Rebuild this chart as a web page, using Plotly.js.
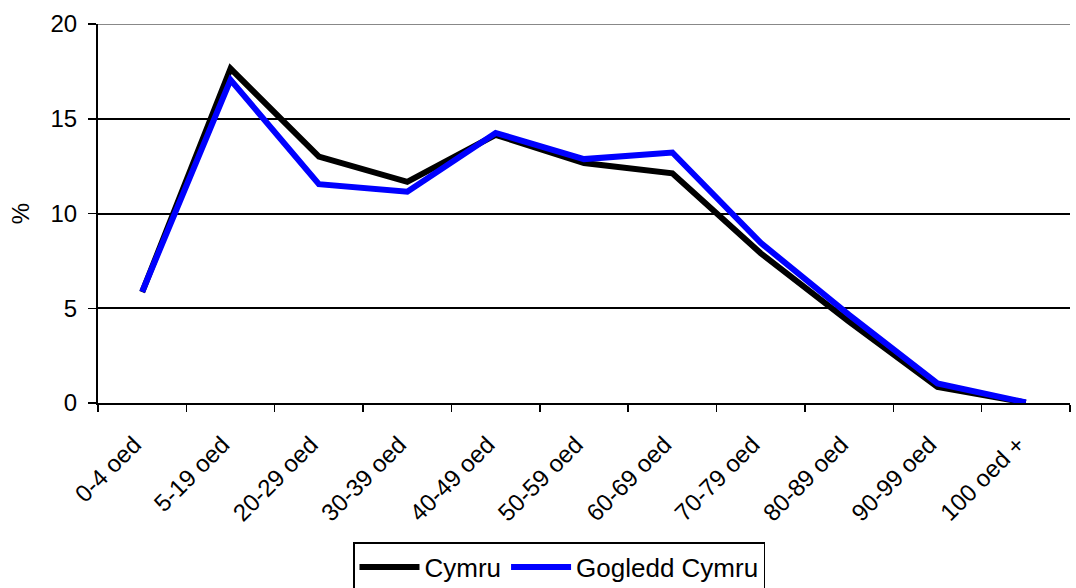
<!DOCTYPE html>
<html>
<head>
<meta charset="utf-8">
<script src="https://cdn.plot.ly/plotly-3.0.1.min.js"></script>
<style>html,body{margin:0;padding:0;background:#fff;}#chart{width:1076px;height:588px;}</style>
</head>
<body>
<div id="chart"></div>
<script>
const categories = ["0-4 oed","5-19 oed","20-29 oed","30-39 oed","40-49 oed","50-59 oed","60-69 oed","70-79 oed","80-89 oed","90-99 oed","100 oed +"];
const cymru = [5.85, 17.65, 13.0, 11.67, 14.15, 12.66, 12.12, 7.9, 4.3, 0.85, 0.02];
const gogleddCymru = [5.87, 17.05, 11.55, 11.15, 14.25, 12.87, 13.22, 8.45, 4.65, 1.03, 0.03];
const yTicks = [0, 5, 10, 15, 20];

const family = "Liberation Sans, Arial, sans-serif";
const tickFont = {family: family, size: 24, color: "#000"};

const traces = [
  {x: categories, y: cymru, name: "Cymru", type: "scatter", mode: "lines",
   line: {color: "#000000", width: 6}},
  {x: categories, y: gogleddCymru, name: "Gogledd Cymru", type: "scatter", mode: "lines",
   line: {color: "#0000ff", width: 6}}
];

const layout = {
  width: 1076, height: 588,
  margin: {l: 98, r: 6, t: 24, b: 185},
  paper_bgcolor: "#fff", plot_bgcolor: "#fff",
  font: tickFont,
  showlegend: true,
  legend: {orientation: "h", xref: "container", yref: "container", x: 353/1076, xanchor: "left",
    y: 1 - 542/588, yanchor: "top",
    bordercolor: "#000", borderwidth: 1.5, font: {family: family, size: 26, color: "#000"},
    itemwidth: 60, tracegroupgap: 0, bgcolor: "#fff"},
  xaxis: {type: "category", tickson: "boundaries", ticks: "outside", ticklen: 7, tickwidth: 1.5, tickcolor: "#000",
    showline: true, linecolor: "#000", linewidth: 2, showgrid: false, zeroline: false,
    tickangle: -45, tickfont: tickFont, range: [-0.5, 10.5], ticklabelstandoff: 16, ticklabelshift: -8, automargin: false},
  yaxis: {range: [0, 20], tickvals: yTicks, ticktext: yTicks.map(String), ticks: "outside", ticklen: 8, tickwidth: 1.5, tickcolor: "#000",
    showline: true, linecolor: "#000", linewidth: 2, showgrid: true, gridcolor: "#000", gridwidth: 2,
    zeroline: false, tickfont: tickFont, ticklabelstandoff: 6, automargin: false,
    title: {text: "%", font: tickFont, standoff: 14}},
  shapes: [{type: "line", xref: "paper", yref: "y", x0: 0, x1: 1, y0: 20, y1: 20,
    line: {color: "#888", width: 2}}]
};

Plotly.newPlot("chart", traces, layout, {staticPlot: true, displayModeBar: false});
</script>
</body>
</html>
